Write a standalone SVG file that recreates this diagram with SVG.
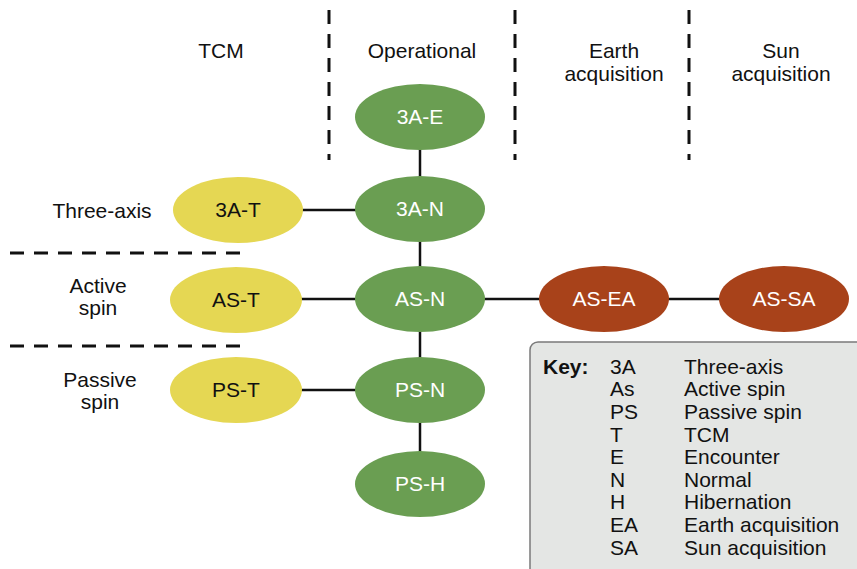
<svg xmlns="http://www.w3.org/2000/svg" width="857" height="569" viewBox="0 0 857 569">
<style>
text{font-family:"Liberation Sans",Arial,sans-serif;font-size:21px;fill:#111;}
.c{text-anchor:middle;}
.g ellipse{fill:#6a9e52;}
.y ellipse{fill:#e5d753;}
.r ellipse{fill:#a8421a;}
.g text,.r text{fill:#fff;text-anchor:middle;}
.y text{fill:#111;text-anchor:middle;}
.dash{stroke:#111;stroke-width:3;stroke-dasharray:14 10;fill:none;}
.conn line{stroke:#111;stroke-width:2.5;}
</style>
<rect width="857" height="569" fill="#fff"/>
<g id="dividers">
<line class="dash" x1="329" y1="10" x2="329" y2="160"/>
<line class="dash" x1="515" y1="10" x2="515" y2="160"/>
<line class="dash" x1="689" y1="10" x2="689" y2="160"/>
<line class="dash" x1="10" y1="253" x2="245" y2="253"/>
<line class="dash" x1="10" y1="346" x2="240" y2="346"/>
</g>
<g id="headers">
<text class="c" x="221" y="58">TCM</text>
<text class="c" x="422" y="58">Operational</text>
<text class="c" x="614" y="58">Earth</text>
<text class="c" x="614" y="81">acquisition</text>
<text class="c" x="781" y="58">Sun</text>
<text class="c" x="781" y="81">acquisition</text>
<text class="c" x="102" y="218">Three-axis</text>
<text class="c" x="98" y="293">Active</text>
<text class="c" x="98" y="315">spin</text>
<text class="c" x="100" y="387">Passive</text>
<text class="c" x="100" y="409">spin</text>
</g>
<g id="connectors" class="conn">
<line x1="420" y1="148" x2="420" y2="178"/>
<line x1="420" y1="240" x2="420" y2="268"/>
<line x1="420" y1="330" x2="420" y2="359"/>
<line x1="420" y1="421" x2="420" y2="453"/>
<line x1="302" y1="210" x2="357" y2="210"/>
<line x1="300" y1="299" x2="357" y2="299"/>
<line x1="300" y1="390" x2="357" y2="390"/>
<line x1="484" y1="299" x2="541" y2="299"/>
<line x1="667" y1="299" x2="721" y2="299"/>
</g>
<g id="n3AE" class="g"><ellipse cx="420" cy="117" rx="65" ry="33"/><text x="420" y="124">3A-E</text></g>
<g id="n3AN" class="g"><ellipse cx="420" cy="209" rx="65" ry="33"/><text x="420" y="216">3A-N</text></g>
<g id="nASN" class="g"><ellipse cx="420" cy="299" rx="65" ry="33"/><text x="420" y="306">AS-N</text></g>
<g id="nPSN" class="g"><ellipse cx="420" cy="390" rx="65" ry="33"/><text x="420" y="397">PS-N</text></g>
<g id="nPSH" class="g"><ellipse cx="420" cy="484" rx="65" ry="33"/><text x="420" y="491">PS-H</text></g>
<g id="n3AT" class="y"><ellipse cx="238" cy="210" rx="65" ry="33"/><text x="238" y="217">3A-T</text></g>
<g id="nAST" class="y"><ellipse cx="236" cy="300" rx="66" ry="33"/><text x="236" y="307">AS-T</text></g>
<g id="nPST" class="y"><ellipse cx="236" cy="390" rx="66" ry="33"/><text x="236" y="397">PS-T</text></g>
<g id="nASEA" class="r"><ellipse cx="604" cy="299" rx="65" ry="33"/><text x="604" y="306">AS-EA</text></g>
<g id="nASSA" class="r"><ellipse cx="784" cy="299" rx="65" ry="33"/><text x="784" y="306">AS-SA</text></g>
<g id="key">
<rect x="530" y="342" width="340" height="240" rx="8" fill="#e4e6e4" stroke="#7a7a7a" stroke-width="1.5"/>
<text x="543" y="374" font-weight="bold">Key:</text>
<g>
<text x="610" y="374">3A</text><text x="684" y="374">Three-axis</text>
<text x="610" y="396">As</text><text x="684" y="396">Active spin</text>
<text x="610" y="419">PS</text><text x="684" y="419">Passive spin</text>
<text x="610" y="442">T</text><text x="684" y="442">TCM</text>
<text x="610" y="464">E</text><text x="684" y="464">Encounter</text>
<text x="610" y="487">N</text><text x="684" y="487">Normal</text>
<text x="610" y="509">H</text><text x="684" y="509">Hibernation</text>
<text x="610" y="532">EA</text><text x="684" y="532">Earth acquisition</text>
<text x="610" y="555">SA</text><text x="684" y="555">Sun acquisition</text>
</g>
</g>
</svg>
